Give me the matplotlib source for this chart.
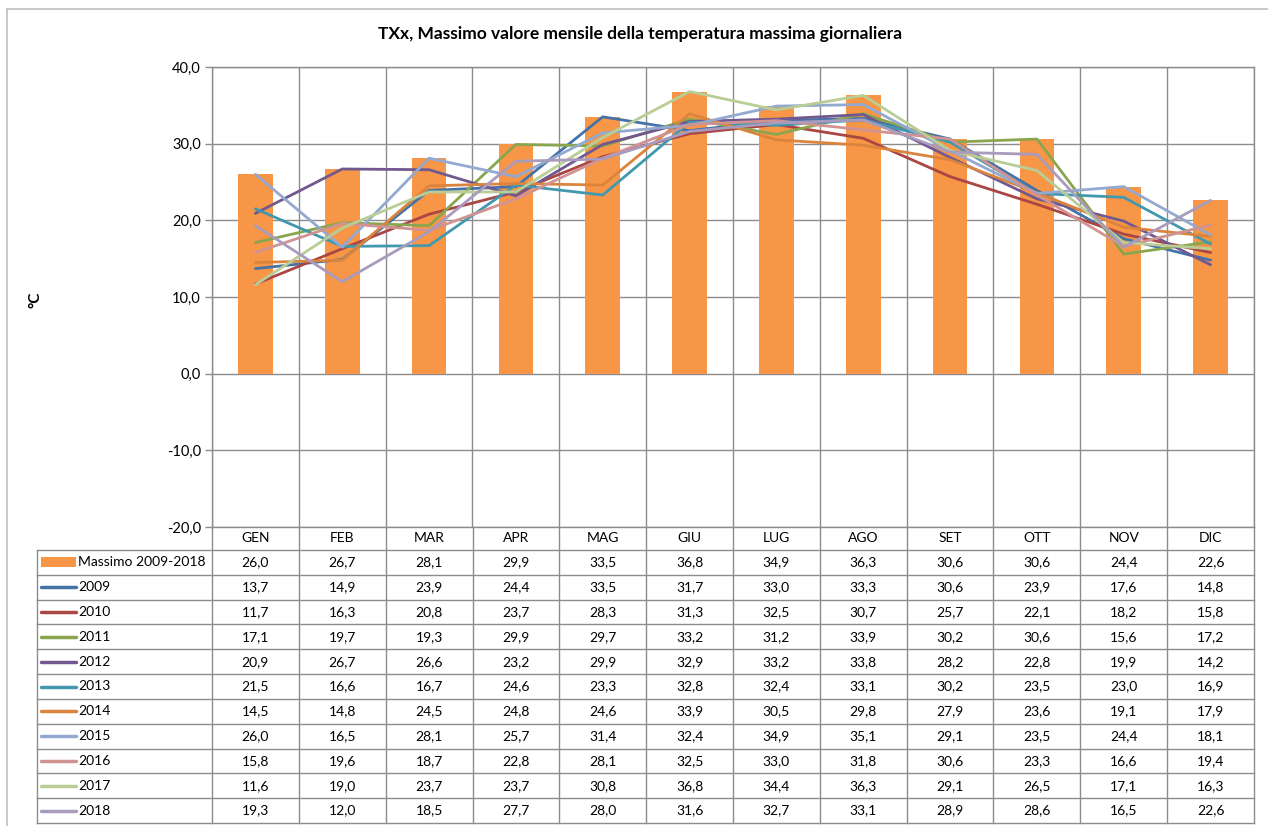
import matplotlib
matplotlib.use("Agg")
import matplotlib.pyplot as plt
from matplotlib.patches import Rectangle
from matplotlib.lines import Line2D

plt.rcParams['font.family'] = ['Lato', 'DejaVu Sans']

title = "TXx, Massimo valore mensile della temperatura massima giornaliera"
ylabel = "°C"
months = ["GEN", "FEB", "MAR", "APR", "MAG", "GIU", "LUG", "AGO", "SET", "OTT", "NOV", "DIC"]
yticks = [-20, -10, 0, 10, 20, 30, 40]

bar_label = "Massimo 2009-2018"
bar_values = [26.0, 26.7, 28.1, 29.9, 33.5, 36.8, 34.9, 36.3, 30.6, 30.6, 24.4, 22.6]

years = ["2009", "2010", "2011", "2012", "2013", "2014", "2015", "2016", "2017", "2018"]
y2009 = [13.7, 14.9, 23.9, 24.4, 33.5, 31.7, 33.0, 33.3, 30.6, 23.9, 17.6, 14.8]
y2010 = [11.7, 16.3, 20.8, 23.7, 28.3, 31.3, 32.5, 30.7, 25.7, 22.1, 18.2, 15.8]
y2011 = [17.1, 19.7, 19.3, 29.9, 29.7, 33.2, 31.2, 33.9, 30.2, 30.6, 15.6, 17.2]
y2012 = [20.9, 26.7, 26.6, 23.2, 29.9, 32.9, 33.2, 33.8, 28.2, 22.8, 19.9, 14.2]
y2013 = [21.5, 16.6, 16.7, 24.6, 23.3, 32.8, 32.4, 33.1, 30.2, 23.5, 23.0, 16.9]
y2014 = [14.5, 14.8, 24.5, 24.8, 24.6, 33.9, 30.5, 29.8, 27.9, 23.6, 19.1, 17.9]
y2015 = [26.0, 16.5, 28.1, 25.7, 31.4, 32.4, 34.9, 35.1, 29.1, 23.5, 24.4, 18.1]
y2016 = [15.8, 19.6, 18.7, 22.8, 28.1, 32.5, 33.0, 31.8, 30.6, 23.3, 16.6, 19.4]
y2017 = [11.6, 19.0, 23.7, 23.7, 30.8, 36.8, 34.4, 36.3, 29.1, 26.5, 17.1, 16.3]
y2018 = [19.3, 12.0, 18.5, 27.7, 28.0, 31.6, 32.7, 33.1, 28.9, 28.6, 16.5, 22.6]
series = [y2009, y2010, y2011, y2012, y2013, y2014, y2015, y2016, y2017, y2018]

bar_color = "#F79646"
line_colors = ["#4572A7", "#AA4643", "#89A54E", "#71588F", "#4198AF",
               "#DB843D", "#93A9CF", "#D19392", "#B9CD96", "#A99BBD"]
grid_c = "#8C8C8C"

W, H = 1268, 826
fig = plt.figure(figsize=(W / 100, H / 100), dpi=100)

def fx(px):
    return px / W

def fy(py):
    return 1 - py / H

# outer frame (left and top visible)
fig.add_artist(Line2D([fx(7), fx(7)], [fy(9), 0], color="#BFBFBF", lw=1.2))
fig.add_artist(Line2D([fx(7), 1], [fy(9), fy(9)], color="#BFBFBF", lw=1.2))

# main chart axes
L, R, T, B = 212, 1254, 67, 527
ax = fig.add_axes([fx(L), fy(B), (R - L) / W, (B - T) / H])
x = list(range(len(months)))
ax.bar(x, bar_values, width=0.4, color=bar_color, zorder=2)
for vals, c in zip(series, line_colors):
    ax.plot(x, vals, color=c, lw=2.0, zorder=3, solid_capstyle='round')
ax.set_xlim(-0.5, len(months) - 0.5)
ax.set_ylim(-20, 40)
ax.set_yticks(yticks)
ax.set_yticklabels([f"{v:.1f}".replace(".", ",") for v in yticks], fontsize=10.5)
ax.tick_params(axis='y', length=5, width=1, color=grid_c, pad=3)
ax.set_xticks([i - 0.5 for i in range(len(months) + 1)], minor=True)
ax.tick_params(axis='x', which='both', length=0, labelbottom=False)
ax.grid(True, axis='y', color=grid_c, lw=1, zorder=0)
ax.grid(True, axis='x', which='minor', color=grid_c, lw=1, zorder=0)
ax.grid(False, axis='x', which='major')
ax.set_axisbelow(True)
for s in ax.spines.values():
    s.set_color(grid_c)
    s.set_linewidth(1)

fig.text(fx(640), fy(34), title, ha='center', va='center', fontsize=12.5, fontweight='bold')
fig.text(fx(36), fy(300), ylabel, ha='center', va='center', rotation=90, fontsize=11, fontweight='bold')

# data table
TL, TB = 37, 823
tab = fig.add_axes([fx(TL), fy(TB), (R - TL) / W, (TB - B) / H])
tab.axis('off')
unit = (R - L) / 12
xleft = -0.5 - (L - TL) / unit
h0 = (550 - B) / ((TB - 550) / 11)
nrows = 1 + len(series)
tab.set_xlim(xleft, len(months) - 0.5)
tab.set_ylim(nrows, -h0)

lk = dict(color=grid_c, lw=1, clip_on=False)
for r in range(nrows + 1):
    tab.plot([xleft, len(months) - 0.5], [r, r], **lk)
for k in range(len(months) + 1):
    tab.plot([k - 0.5, k - 0.5], [-h0, nrows], **lk)
tab.plot([xleft, xleft], [0, nrows], **lk)

for i, m in enumerate(months):
    tab.text(i, -h0 / 2, m, ha='center', va='center', fontsize=10)

rows = [bar_values] + series
labels = [bar_label] + years
for r, (lab, vals) in enumerate(zip(labels, rows)):
    yc = r + 0.5
    for i, v in enumerate(vals):
        tab.text(i, yc, f"{v:.1f}".replace(".", ","), ha='center', va='center', fontsize=10)
    mx0 = xleft + 4 / unit
    mx1 = xleft + 39 / unit
    if r == 0:
        tab.add_patch(Rectangle((mx0, yc - 0.2), mx1 - mx0, 0.4, color=bar_color, lw=0))
    else:
        tab.plot([mx0, mx1], [yc, yc], color=line_colors[r - 1], lw=2.5, solid_capstyle='round')
    tab.text(xleft + 41 / unit, yc, lab, ha='left', va='center', fontsize=10)

fig.savefig("out.png", dpi=100)
